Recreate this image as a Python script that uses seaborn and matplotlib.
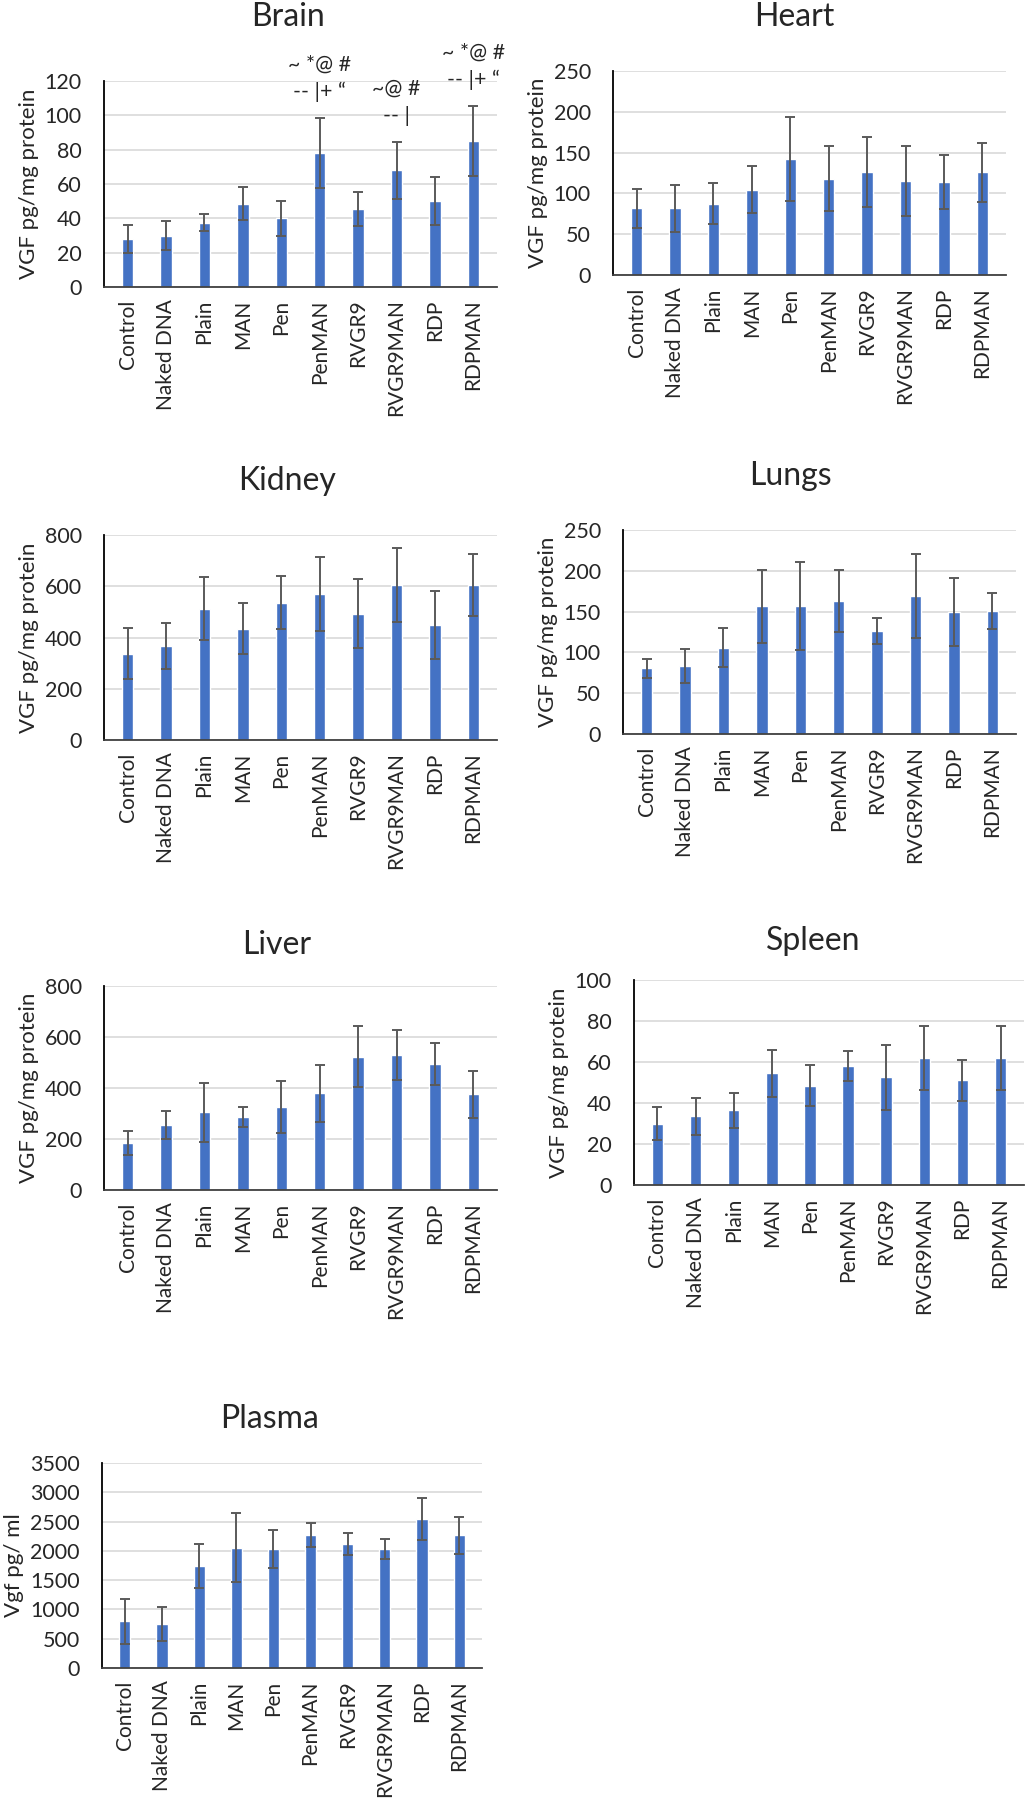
import numpy as np
import pandas as pd
import seaborn as sns
import matplotlib.pyplot as plt

# groups on the x axis (same for every organ)
groups = ["Control", "Naked DNA", "Plain", "MAN", "Pen", "PenMAN",
          "RVGR9", "RVGR9MAN", "RDP", "RDPMAN"]

# mean and error (SD)
brain_mean = [28, 30, 37.5, 48.5, 40, 78, 45.5, 68, 50, 85]
brain_err = [8, 8.5, 5, 9.7, 10, 20.5, 10, 16.5, 14, 20.5]

heart_mean = [81.5, 81.5, 87.5, 104.5, 142.5, 118, 126, 115, 114, 126]
heart_err = [23.5, 29, 25.5, 29, 51.5, 39.5, 43, 43, 33, 36]

kidney_mean = [337, 367, 512, 434, 536, 570, 493, 605, 449, 605]
kidney_err = [100, 91, 123, 100, 104, 145, 134, 143, 134, 120]

lungs_mean = [80.5, 83.5, 106, 156.5, 156.5, 163, 126.5, 169, 149.5, 151]
lungs_err = [11.5, 21, 24, 45, 54, 38.5, 16, 51, 41.5, 22]

liver_mean = [186, 255, 305, 286, 327, 379, 523, 529, 494, 376]
liver_err = [47, 56, 115, 39, 102, 112, 120, 97, 82, 92]

spleen_mean = [30, 33.5, 36.5, 54.5, 48.5, 58, 52.5, 62, 51, 62]
spleen_err = [8, 9, 8.5, 11.5, 10, 7.5, 16, 15.5, 10, 15.5]

plasma_mean = [797, 757, 1736, 2055, 2032, 2265, 2117, 2032, 2544, 2265]
plasma_err = [380, 290, 376, 586, 330, 205, 182, 165, 353, 313]

# significance marks above brain bars (two lines each)
brain_sig_groups = ["PenMAN", "RVGR9MAN", "RDPMAN"]
brain_sig_line1 = ["~ *@ #", "~@ #", "~ *@ #"]
brain_sig_line2 = ["-- |+ \u201c", "-- |", "-- |+ \u201c"]

W, H = 1027, 1800
sns.set_style("white")
plt.rcParams["font.family"] = ["Lato", "DejaVu Sans"]

fig = plt.figure(figsize=(W / 100, H / 100), dpi=100)

# (title, mean, err, ylabel, ymax, step, box px (l, t, r, b), title baseline px (x, y))
panels = [
    ("Brain", brain_mean, brain_err, "VGF pg/mg protein", 120, 20, (104, 81, 497, 287), (288, 26)),
    ("Heart", heart_mean, heart_err, "VGF pg/mg protein", 250, 50, (613, 71, 1006, 275), (794, 26)),
    ("Kidney", kidney_mean, kidney_err, "VGF pg/mg protein", 800, 200, (104, 535, 497, 740), (287, 490)),
    ("Lungs", lungs_mean, lungs_err, "VGF pg/mg protein", 250, 50, (623, 530, 1016, 734), (790, 485)),
    ("Liver", liver_mean, liver_err, "VGF pg/mg protein", 800, 200, (104, 986, 497, 1190), (277, 954)),
    ("Spleen", spleen_mean, spleen_err, "VGF pg/mg protein", 100, 20, (634, 980, 1024, 1185), (813, 950)),
    ("Plasma", plasma_mean, plasma_err, "Vgf pg/ ml", 3500, 500, (102, 1463, 482, 1668), (270, 1428)),
]

axes = {}
for title, mean, err, ylab, ymax, step, box, tpos in panels:
    l, t, r, b = box
    ax = fig.add_axes([l / W, 1 - b / H, (r - l) / W, (b - t) / H])
    df = pd.DataFrame({"group": groups, "value": mean})
    sns.barplot(data=df, x="group", y="value", ax=ax, color="#4472C4",
                saturation=1, width=0.3, errorbar=None, zorder=2)
    ax.errorbar(np.arange(len(groups)), mean, yerr=err, fmt="none",
                ecolor="#5a5a5a", elinewidth=1.4, capsize=3.5, capthick=1.4, zorder=3)
    ax.set_ylim(0, ymax)
    ax.set_yticks(np.arange(0, ymax + 1, step))
    ax.yaxis.grid(True, color="#d9d9d9", linewidth=1.2, zorder=0)
    ax.set_axisbelow(True)
    for s in ["top", "right"]:
        ax.spines[s].set_visible(False)
    ax.spines["left"].set_color("black")
    ax.spines["bottom"].set_color("#404040")
    ax.spines["left"].set_linewidth(1.3)
    ax.spines["bottom"].set_linewidth(1.3)
    ax.tick_params(axis="x", length=0, pad=9, labelsize=15, rotation=90)
    ax.tick_params(axis="y", length=0, pad=16, labelsize=15.5)
    ax.set_xlabel("")
    ax.set_ylabel(ylab, fontsize=16, labelpad=4)
    fig.text(tpos[0] / W, 1 - tpos[1] / H, title, fontsize=23, ha="center", va="baseline")
    axes[title] = (ax, mean, err)

# significance marks on the brain panel
ax, mean, err = axes["Brain"]
for g, s1, s2 in zip(brain_sig_groups, brain_sig_line1, brain_sig_line2):
    i = groups.index(g)
    top = mean[i] + err[i]
    ax.text(i, top + 15, s2, ha="center", va="center", fontsize=15.5, clip_on=False)
    ax.text(i, top + 31, s1, ha="center", va="center", fontsize=15.5, clip_on=False)

fig.savefig("out.png", dpi=100)
